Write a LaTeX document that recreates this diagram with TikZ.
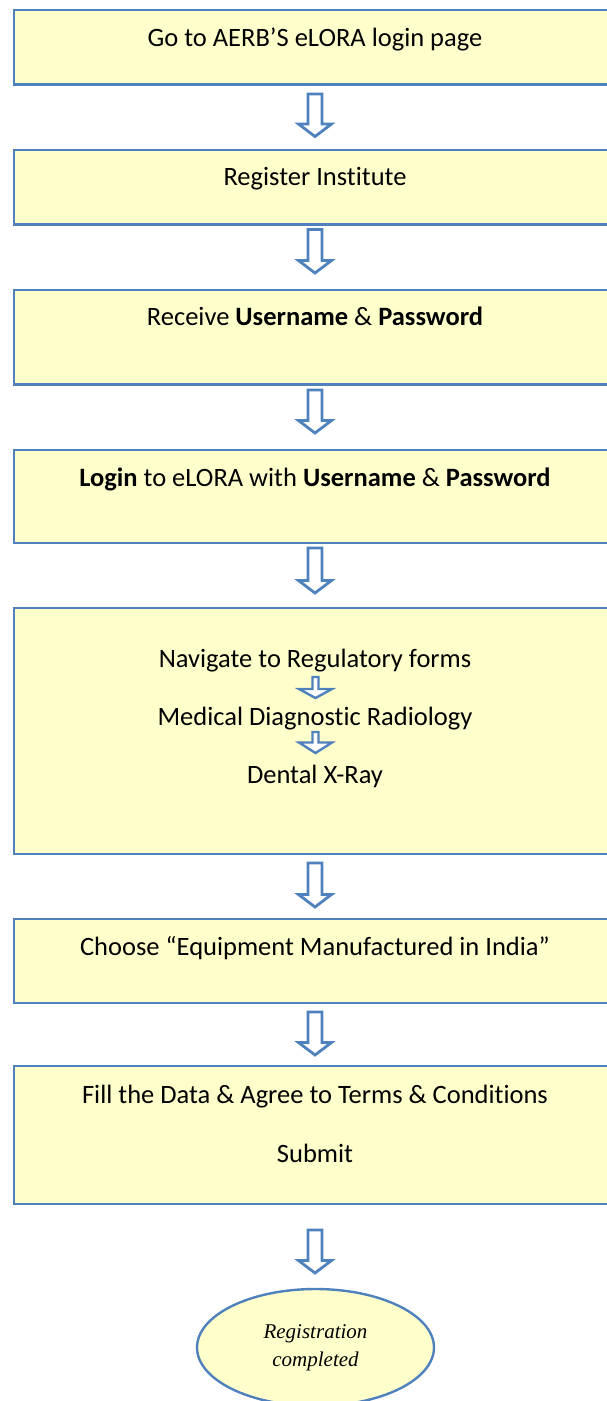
\documentclass[tikz,border=0pt]{standalone}
\usepackage{fontspec}
\setmainfont{Carlito}[Ligatures=NoCommon, Contextuals=NoAlternate]
\newfontfamily\timesf{Liberation Serif}
\usetikzlibrary{shapes.geometric}
\definecolor{bblue}{HTML}{4F81BD}
\definecolor{byellow}{HTML}{FFFFCC}
\newcommand\stepnode[3]{\node[stepbox, anchor=north west, minimum width=607, minimum height={#3-#2}] (#1) at (12.5,#2) {};}
\newcommand\bigarrow[3]{%
  \coordinate (#1s) at (315,#2); \coordinate (#1e) at (315,#3);
  \draw[arr] (308,#2) -- (322,#2) -- (322,{#3-12.5}) -- (331.5,{#3-12.5}) -- (#1e) -- (298.5,{#3-12.5}) -- (308,{#3-12.5}) -- cycle;}
\newcommand\smallarrow[4]{%
  \coordinate (#1e) at (315.5,#4);
  \draw[sarr] (312.5,#2) -- (318.5,#2) -- (318.5,#3) -- (332,#3) -- (#1e) -- (299,#3) -- (312.5,#3) -- cycle;}
\begin{document}
\begin{tikzpicture}[x=1pt,y=-1pt,
  stepbox/.style={draw=bblue, fill=byellow, line width=2.4pt, rectangle, inner sep=0pt},
  lbl/.style={font=\fontsize{26.5}{30}\selectfont, anchor=base, inner sep=0pt, text=black},
  arr/.style={draw=bblue, fill=white, line width=2.8pt, line join=miter},
  sarr/.style={draw=bblue, fill=white, line width=2.4pt, line join=miter},
  endnode/.style={ellipse, draw=bblue, fill=byellow, line width=2.4pt, inner sep=0pt,
    minimum width=237, minimum height=117, align=center,
    font=\timesf\itshape\fontsize{21}{28}\selectfont}]
\useasboundingbox (0,0) rectangle (607,1401);
\clip (0,0) rectangle (607,1401);

\stepnode{b1}{8.5}{83.3}
\stepnode{b2}{148.5}{223.3}
\stepnode{b3}{288.5}{383.3}
\stepnode{b4}{449}{541.7}
\stepnode{b5}{606.7}{853}
\stepnode{b6}{918}{1002}
\stepnode{b7}{1065}{1203}

\node[lbl] (t1) at (315,46.8) {Go to AERB’S eLORA login page};
\node[lbl] (t2) at (315,185.2) {Register Institute};
\node[lbl] (t3) at (315,325.2) {Receive \textbf{Username} \& \textbf{Password}};
\node[lbl] (t4) at (315,486.5) {\textbf{Login} to eLORA with \textbf{Username} \& \textbf{Password}};
\node[lbl] (t5a) at (315,667) {Navigate to Regulatory forms};
\node[lbl] (t5b) at (315,725.2) {Medical Diagnostic Radiology};
\node[lbl] (t5c) at (315,783.5) {Dental X-Ray};
\node[lbl] (t6) at (315,955.5) {Choose “Equipment Manufactured in India”};
\node[lbl] (t7a) at (315,1103.2) {Fill the Data \& Agree to Terms \& Conditions};
\node[lbl] (t7b) at (315,1162.3) {Submit};

\bigarrow{a1}{94}{136.5}
\bigarrow{a2}{229.5}{273}
\bigarrow{a3}{390}{433}
\bigarrow{a4}{548}{593}
\bigarrow{a5}{863}{907}
\bigarrow{a6}{1012}{1055}
\bigarrow{a7}{1230}{1273}

\smallarrow{s1}{677}{689}{698}
\smallarrow{s2}{732}{742.5}{753}

\node[endnode] (done) at (315.5,1347.5) {Registration\\completed};
\end{tikzpicture}
\end{document}
